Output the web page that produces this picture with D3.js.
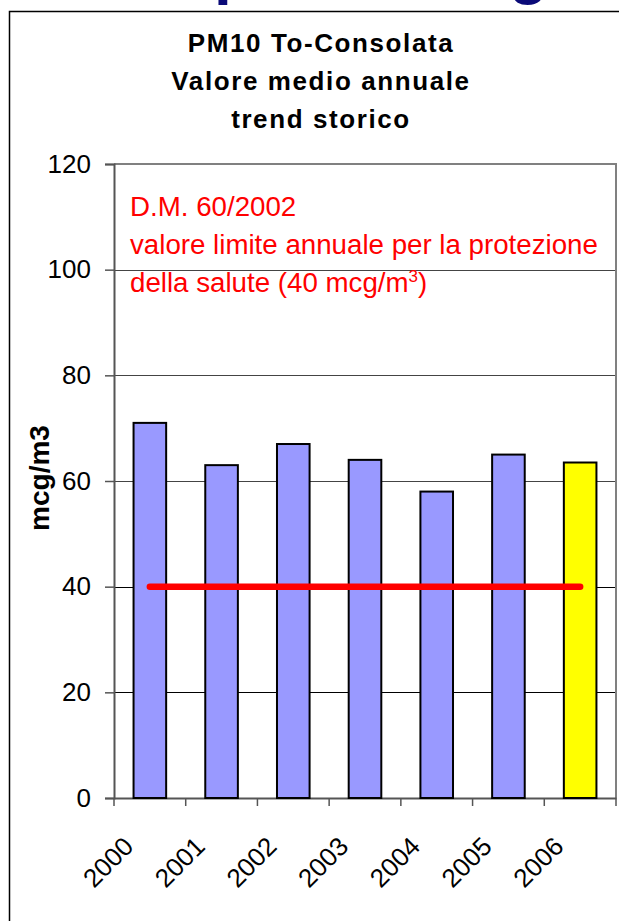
<!DOCTYPE html>
<html>
<head>
<meta charset="utf-8">
<script src="https://cdn.jsdelivr.net/npm/d3@7"></script>
<style>
  body { margin: 0; background: #fff; }
  svg { display: block; font-family: "Liberation Sans", Arial, sans-serif; }
</style>
</head>
<body>
<script>
// chart data
const years = ["2000", "2001", "2002", "2003", "2004", "2005", "2006"];
const meanValues = [71, 63, 67, 64, 58, 65, 63.5];
const limitValues = [40, 40, 40, 40, 40, 40, 40];
const highlightYear = "2006";
const yTicks = [0, 20, 40, 60, 80, 100, 120];
const titleLines = ["PM10 To-Consolata", "Valore medio annuale", "trend storico"];
const noteLines = ["D.M. 60/2002", "valore limite annuale per la protezione", "della salute (40 mcg/m"];
const yLabel = "mcg/m3";

const width = 619, height = 921;
const margin = { top: 164, right: 3, bottom: 123, left: 114 };

const svg = d3.select("body").append("svg")
  .attr("width", width)
  .attr("height", height);

// cut-off slide heading above the chart frame
svg.append("text")
  .attr("x", 214).attr("y", -8)
  .attr("font-size", 64).attr("font-weight", "bold")
  .attr("fill", "#0a0a78")
  .text("p");
svg.append("text")
  .attr("x", 509).attr("y", -8)
  .attr("font-size", 64).attr("font-weight", "bold")
  .attr("fill", "#0a0a78")
  .text("g");

// outer chart frame
svg.append("rect")
  .attr("x", 9.5).attr("y", 11.5)
  .attr("width", 640).attr("height", 940)
  .attr("fill", "none")
  .attr("stroke", "#000")
  .attr("stroke-width", 1.5);

// scales
const x = d3.scaleBand()
  .domain(years)
  .range([margin.left, width - margin.right])
  .padding(0);

const y = d3.scaleLinear()
  .domain([0, 120])
  .range([height - margin.bottom, margin.top]);

const barW = x.bandwidth() / 2.2;

// title
svg.append("g").selectAll("text")
  .data(titleLines)
  .enter().append("text")
  .attr("x", 321)
  .attr("y", (d, i) => 52 + i * 38)
  .attr("text-anchor", "middle")
  .attr("font-size", 26)
  .attr("font-weight", "bold")
  .attr("letter-spacing", 1.6)
  .text(d => d);

// gridlines
svg.append("g").selectAll("line")
  .data(yTicks.filter(d => d > 0 && d < 120))
  .enter().append("line")
  .attr("x1", margin.left).attr("x2", width - margin.right)
  .attr("y1", d => Math.round(y(d)) + 0.5).attr("y2", d => Math.round(y(d)) + 0.5)
  .attr("stroke", d => d >= 60 ? "#444" : "#000")
  .attr("stroke-width", 1);

// plot area border (top / right)
svg.append("path")
  .attr("d", `M${margin.left},${y(120)}H${width - margin.right}V${y(0)}`)
  .attr("fill", "none")
  .attr("stroke", "#808080")
  .attr("stroke-width", 2);

// y axis
const yAxis = svg.append("g")
  .attr("transform", `translate(${margin.left},0)`)
  .call(d3.axisLeft(y).tickValues(yTicks).tickSize(9).tickPadding(14));
yAxis.select(".domain").attr("stroke", "#555").attr("stroke-width", 2);
yAxis.selectAll(".tick line").attr("stroke", "#555").attr("stroke-width", 1.5);
yAxis.selectAll("text")
  .attr("font-size", 26)
  .attr("font-family", "'Liberation Sans', Arial, sans-serif")
  .attr("fill", "#000");

// x axis with ticks on the category boundaries
const xAxis = svg.append("g")
  .attr("transform", `translate(0,${y(0)})`)
  .call(d3.axisBottom(x).tickSize(0).tickFormat(""));
xAxis.select(".domain").attr("stroke", "#555").attr("stroke-width", 2);
xAxis.selectAll(".tick").remove();

const boundaries = years.map(d => x(d)).concat([x(years[years.length - 1]) + x.bandwidth()]);
svg.append("g").selectAll("line")
  .data(boundaries)
  .enter().append("line")
  .attr("x1", d => d).attr("x2", d => d)
  .attr("y1", y(0)).attr("y2", y(0) + 8)
  .attr("stroke", "#555")
  .attr("stroke-width", 1.5);

// rotated year labels
svg.append("g").selectAll("text")
  .data(years)
  .enter().append("text")
  .attr("transform", d => `translate(${x(d) + x.bandwidth() / 2 - 15},${y(0) + 50}) rotate(-45)`)
  .attr("text-anchor", "end")
  .attr("font-size", 26)
  .text(d => d);

// y axis title
svg.append("text")
  .attr("transform", `translate(49,478) rotate(-90)`)
  .attr("text-anchor", "middle")
  .attr("font-size", 28)
  .attr("font-weight", "bold")
  .text(yLabel);

// bars
svg.append("g").selectAll("rect")
  .data(years.map((d, i) => ({ year: d, value: meanValues[i] })))
  .enter().append("rect")
  .attr("x", d => x(d.year) + (x.bandwidth() - barW) / 2)
  .attr("y", d => y(d.value))
  .attr("width", barW)
  .attr("height", d => y(0) - y(d.value))
  .attr("fill", d => d.year === highlightYear ? "#ffff00" : "#9999ff")
  .attr("stroke", "#000")
  .attr("stroke-width", 2);

// annual limit line
const line = d3.line()
  .x(d => x(d.year) + x.bandwidth() / 2)
  .y(d => y(d.value));

svg.append("path")
  .datum(years.map((d, i) => ({ year: d, value: limitValues[i] })))
  .attr("d", line)
  .attr("fill", "none")
  .attr("stroke", "#ff0000")
  .attr("stroke-width", 6.5)
  .attr("stroke-linecap", "round");

// red note
const note = svg.append("g");
noteLines.forEach((t, i) => {
  const tx = note.append("text")
    .attr("x", 130)
    .attr("y", 216 + i * 38)
    .attr("font-size", 27.7)
    .attr("fill", "#ff0000")
    .text(t);
  if (i === noteLines.length - 1) {
    tx.append("tspan").attr("font-size", 17).attr("dy", -10).text("3");
    tx.append("tspan").attr("dy", 10).text(")");
  }
});
</script>
</body>
</html>
